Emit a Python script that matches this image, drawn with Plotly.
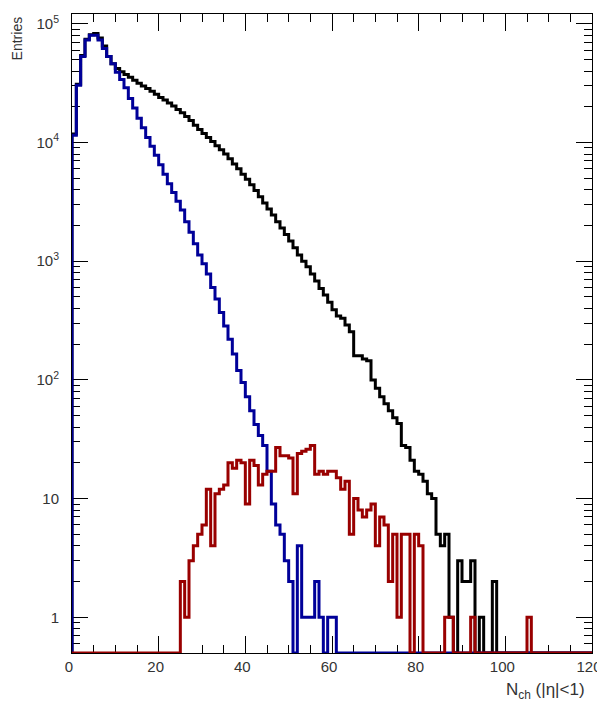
import numpy as np
import plotly.graph_objects as go

# bin contents, unit-width bins starting at N_ch = 0
BLACK = [
    11800, 31000, 54000, 74000, 81000, 83000, 76000, 65000, 53000, 46000,
    42000, 39500, 37500, 35500, 33500, 31500, 30000, 28500, 27000, 25500,
    24000, 22800, 21500, 20300, 19000, 17800, 16600, 15300, 14000, 12900,
    11900, 11000, 10200, 9400, 8700, 8000, 7300, 6600, 6000, 5400,
    4900, 4400, 3950, 3500, 3100, 2750, 2450, 2150, 1900, 1680,
    1480, 1300, 1130, 1000, 900, 780, 680, 590, 520, 450,
    390, 345, 330, 290, 255, 160, 160, 150, 145, 100,
    85, 72, 63, 55, 48, 43, 28, 27, 21, 17,
    16, 14, 11, 10, 5, 4, 5, 1, 0, 3,
    2, 2, 3, 0, 1, 0, 0, 2, 0, 0,
]
BLUE = [
    11500, 30400, 53000, 73000, 80000, 80000, 73000, 62000, 53000, 46000,
    39000, 34000, 29000, 23500, 19500, 16000, 13300, 11000, 9300, 7800,
    6500, 5400, 4500, 3800, 3200, 2700, 2150, 1750, 1400, 1130,
    950, 780, 600, 480, 370, 285, 220, 165, 120, 95,
    72, 55, 42, 34, 28, 17, 9, 6, 5, 3,
    2, 0, 4, 1, 1, 1, 2, 1, 0, 1,
    1,
]
RED_START = 25
RED = [
    2, 1, 3, 4, 5, 6, 12, 4, 11, 12,
    13, 20, 18, 21, 20, 9, 21, 19, 13, 16,
    17, 17, 27, 23, 23, 22, 11, 24, 25, 26,
    28, 16, 17, 16, 17, 17, 15, 12, 14, 5,
    10, 8, 7, 8, 9, 4, 7, 6, 2, 5,
    1, 5, 5, 0, 5, 4, 0, 0, 0, 0,
    0, 1, 1, 0, 0, 0, 0, 1, 0, 0,
    0, 0, 0, 0, 0, 0, 0, 0, 0, 0,
    1,
]
X_TICKS = [0, 20, 40, 60, 80, 100, 120]
Y_TICKS = [1, 10, 100, 1e3, 1e4, 1e5]
Y_TICKTEXT = ['1', '10', '10<sup>2</sup>', '10<sup>3</sup>', '10<sup>4</sup>', '10<sup>5</sup>']

NBINS = 120
YMIN, YMAX = 0.5, 1.21e5
FONT = 'Liberation Sans, Arial, sans-serif'
TEXT_COLOR = '#333333'


def hist_steps(vals, start=0):
    counts = np.zeros(NBINS)
    counts[start:start + len(vals)] = vals
    # empty bins sit on the bottom of the frame, as in a ROOT log plot
    y = np.where(counts > 0, counts, YMIN)
    xs = np.concatenate([[0], np.arange(NBINS + 1)])
    ys = np.concatenate([[YMIN], y, [y[-1]]])
    return xs, ys


fig = go.Figure()
for vals, start, color in [(BLACK, 0, '#000000'),
                           (BLUE, 0, '#000099'),
                           (RED, RED_START, '#990000')]:
    xs, ys = hist_steps(vals, start)
    fig.add_trace(go.Scatter(x=xs, y=ys, mode='lines', line_shape='hv',
                             line=dict(color=color, width=3),
                             showlegend=False, hoverinfo='skip'))

minor_y = [m * 10 ** d for d in range(-1, 6) for m in range(2, 10)
           if YMIN <= m * 10 ** d <= YMAX]

fig.update_xaxes(
    range=[0, NBINS], showline=True, linecolor='black', linewidth=1,
    mirror='ticks', showgrid=False, zeroline=False, layer='below traces',
    automargin=False, ticklabeloverflow='allow',
    tickmode='array', tickvals=X_TICKS, ticks='inside', ticklen=17,
    tickcolor='black', tickwidth=1, ticklabelstandoff=0, ticklabelshift=-3,
    tickfont=dict(family=FONT, size=15, color=TEXT_COLOR),
    minor=dict(dtick=5, tick0=0, ticks='inside', ticklen=8,
               tickcolor='black', tickwidth=1, showgrid=False),
)
fig.update_yaxes(
    type='log', range=[np.log10(YMIN), np.log10(YMAX)],
    showline=True, linecolor='black', linewidth=1, mirror='ticks',
    showgrid=False, zeroline=False, layer='below traces',
    automargin=False, ticklabeloverflow='allow',
    tickmode='array', tickvals=Y_TICKS, ticktext=Y_TICKTEXT,
    ticks='inside', ticklen=16, tickcolor='black', tickwidth=1,
    ticklabelstandoff=9,
    tickfont=dict(family=FONT, size=15, color=TEXT_COLOR),
    minor=dict(tickmode='array', tickvals=minor_y, ticks='inside',
               ticklen=8, tickcolor='black', tickwidth=1, showgrid=False),
)

fig.add_annotation(text='Entries', xref='paper', yref='paper',
                   x=-0.105, y=1.0, xanchor='center', yanchor='top',
                   textangle=-90, showarrow=False,
                   font=dict(family=FONT, size=14, color=TEXT_COLOR))
fig.add_annotation(text='N<sub>ch</sub> (|η|<1)', xref='paper', yref='paper',
                   x=0.991, y=-0.06, xanchor='right', yanchor='middle',
                   showarrow=False,
                   font=dict(family=FONT, size=17, color=TEXT_COLOR))

# the page body adds an 8px margin, so the figure is sized to fit inside it
fig.update_layout(
    width=597, height=693,
    margin=dict(l=64, r=13, t=6, b=48),
    plot_bgcolor='white', paper_bgcolor='white',
    font=dict(family=FONT, size=14, color=TEXT_COLOR),
)

fig.write_html('out.html')
